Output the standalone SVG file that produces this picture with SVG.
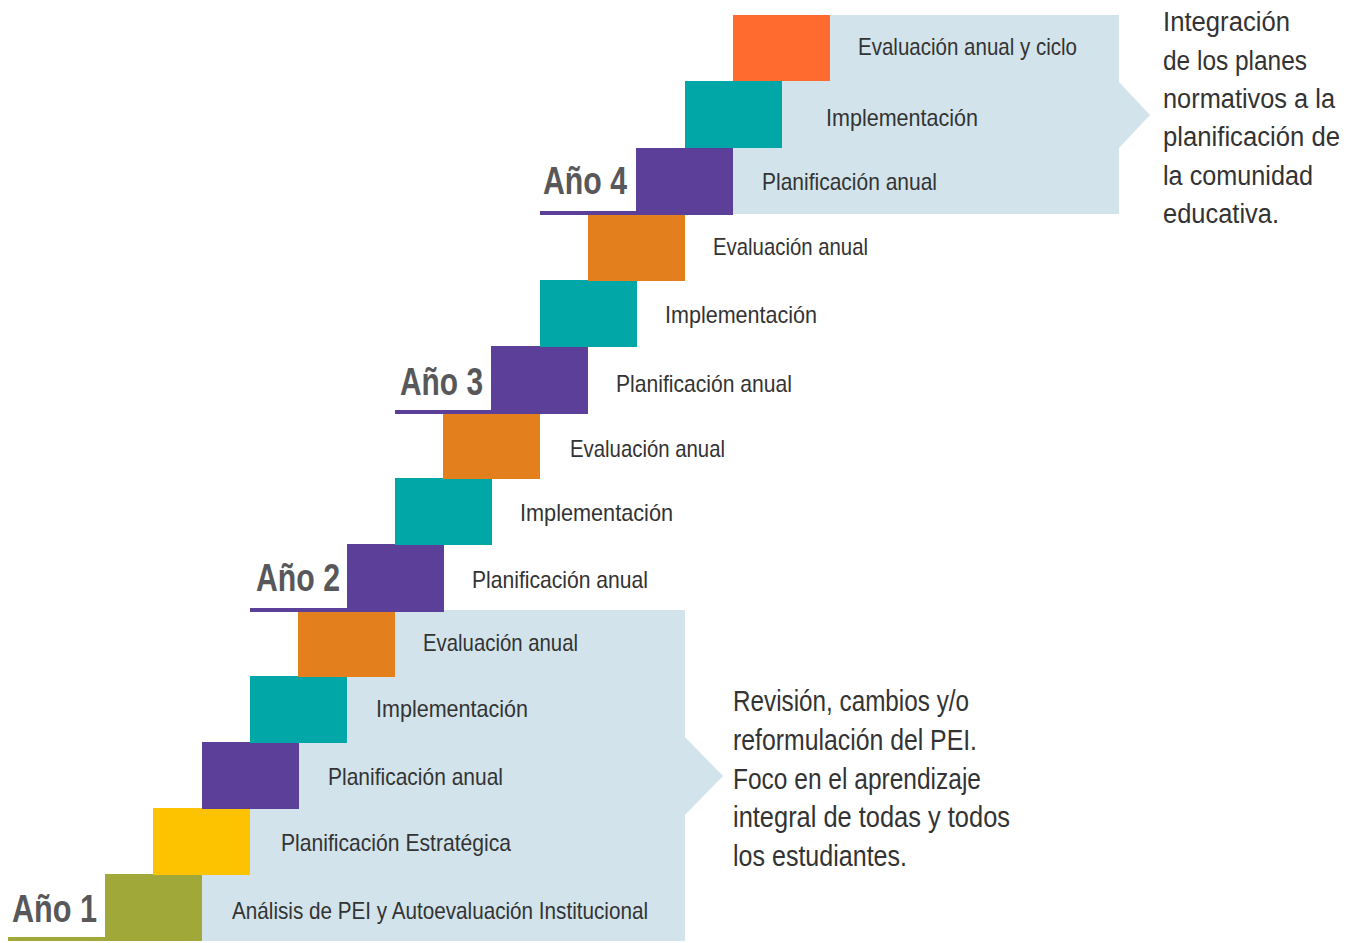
<svg xmlns="http://www.w3.org/2000/svg" width="1359" height="943" viewBox="0 0 1359 943">
  <style>
    .panel { fill: #D2E3EB; }
    .lbl { font-family: "Liberation Sans", Arial, sans-serif; font-size: 24px; fill: #333333; }
    .year { font-family: "Liberation Sans", Arial, sans-serif; font-size: 38px; font-weight: bold; fill: #58585A; }
    .note { font-family: "Liberation Sans", Arial, sans-serif; font-size: 29px; fill: #333333; }
    .note-sm { font-size: 27px; }
    .olive { fill: #A0A83A; }
    .yellow { fill: #FDC300; }
    .purple { fill: #5B3F99; }
    .teal { fill: #00A7A6; }
    .orange { fill: #E47F1E; }
    .red { fill: #FF6B2E; }
  </style>
  <rect width="1359" height="943" fill="#FFFFFF"/>

  <!-- background panels with pointer chevrons -->
  <g id="connectors">
    <polygon class="panel" points="105,941 105,874 153,874 153,808 202,808 202,742 250,742 250,676 298,676 298,610 685,610 685,737 723,776 685,815 685,941"/>
    <polygon class="panel" points="636,214 636,148 685,148 685,82 733,82 733,15 1119,15 1119,82 1150,115 1119,148 1119,214"/>
  </g>

  <!-- Year 1 -->
  <g id="step-analisis">
    <rect class="olive" x="8" y="937" width="97" height="4"/>
    <rect class="olive" x="105" y="874" width="97" height="67"/>
    <text class="year" x="12" y="922" textLength="85" lengthAdjust="spacingAndGlyphs">Año 1</text>
    <text class="lbl" x="232" y="919" textLength="416" lengthAdjust="spacingAndGlyphs">Análisis de PEI y Autoevaluación Institucional</text>
  </g>
  <g id="step-estrategica">
    <rect class="yellow" x="153" y="808" width="97" height="67"/>
    <text class="lbl" x="281" y="851" textLength="230" lengthAdjust="spacingAndGlyphs">Planificación Estratégica</text>
  </g>
  <g id="step-plan-1">
    <rect class="purple" x="202" y="742" width="97" height="67"/>
    <text class="lbl" x="328" y="785" textLength="175" lengthAdjust="spacingAndGlyphs">Planificación anual</text>
  </g>
  <g id="step-impl-1">
    <rect class="teal" x="250" y="676" width="97" height="67"/>
    <text class="lbl" x="376" y="717" textLength="152" lengthAdjust="spacingAndGlyphs">Implementación</text>
  </g>
  <g id="step-eval-1">
    <rect class="orange" x="298" y="610" width="97" height="67"/>
    <text class="lbl" x="423" y="651" textLength="155" lengthAdjust="spacingAndGlyphs">Evaluación anual</text>
  </g>

  <!-- Year 2 -->
  <g id="step-plan-2">
    <rect class="purple" x="250" y="608" width="97" height="4"/>
    <rect class="purple" x="347" y="544" width="97" height="68"/>
    <text class="year" x="256" y="591" textLength="84" lengthAdjust="spacingAndGlyphs">Año 2</text>
    <text class="lbl" x="472" y="588" textLength="176" lengthAdjust="spacingAndGlyphs">Planificación anual</text>
  </g>
  <g id="step-impl-2">
    <rect class="teal" x="395" y="478" width="97" height="67"/>
    <text class="lbl" x="520" y="521" textLength="153" lengthAdjust="spacingAndGlyphs">Implementación</text>
  </g>
  <g id="step-eval-2">
    <rect class="orange" x="443" y="412" width="97" height="67"/>
    <text class="lbl" x="570" y="457" textLength="155" lengthAdjust="spacingAndGlyphs">Evaluación anual</text>
  </g>

  <!-- Year 3 -->
  <g id="step-plan-3">
    <rect class="purple" x="395" y="410" width="97" height="4"/>
    <rect class="purple" x="491" y="346" width="97" height="68"/>
    <text class="year" x="400" y="395" textLength="83" lengthAdjust="spacingAndGlyphs">Año 3</text>
    <text class="lbl" x="616" y="392" textLength="176" lengthAdjust="spacingAndGlyphs">Planificación anual</text>
  </g>
  <g id="step-impl-3">
    <rect class="teal" x="540" y="280" width="97" height="67"/>
    <text class="lbl" x="665" y="323" textLength="152" lengthAdjust="spacingAndGlyphs">Implementación</text>
  </g>
  <g id="step-eval-3">
    <rect class="orange" x="588" y="214" width="97" height="67"/>
    <text class="lbl" x="713" y="255" textLength="155" lengthAdjust="spacingAndGlyphs">Evaluación anual</text>
  </g>

  <!-- Year 4 -->
  <g id="step-plan-4">
    <rect class="purple" x="540" y="211" width="97" height="4"/>
    <rect class="purple" x="636" y="148" width="97" height="67"/>
    <text class="year" x="543" y="194" textLength="84" lengthAdjust="spacingAndGlyphs">Año 4</text>
    <text class="lbl" x="762" y="190" textLength="175" lengthAdjust="spacingAndGlyphs">Planificación anual</text>
  </g>
  <g id="step-impl-4">
    <rect class="teal" x="685" y="81" width="97" height="67"/>
    <text class="lbl" x="826" y="126" textLength="152" lengthAdjust="spacingAndGlyphs">Implementación</text>
  </g>
  <g id="step-eval-4">
    <rect class="red" x="733" y="15" width="97" height="66"/>
    <text class="lbl" x="858" y="55" textLength="219" lengthAdjust="spacingAndGlyphs">Evaluación anual y ciclo</text>
  </g>

  <!-- side notes -->
  <g id="note-top">
    <text class="note note-sm" x="1163" y="31" textLength="127" lengthAdjust="spacingAndGlyphs">Integración</text>
    <text class="note note-sm" x="1163" y="70" textLength="144" lengthAdjust="spacingAndGlyphs">de los planes</text>
    <text class="note note-sm" x="1163" y="108" textLength="172" lengthAdjust="spacingAndGlyphs">normativos a la</text>
    <text class="note note-sm" x="1163" y="146" textLength="177" lengthAdjust="spacingAndGlyphs">planificación de</text>
    <text class="note note-sm" x="1163" y="185" textLength="150" lengthAdjust="spacingAndGlyphs">la comunidad</text>
    <text class="note note-sm" x="1163" y="223" textLength="116" lengthAdjust="spacingAndGlyphs">educativa.</text>
  </g>
  <g id="note-bottom">
    <text class="note" x="733" y="711" textLength="236" lengthAdjust="spacingAndGlyphs">Revisión, cambios y/o</text>
    <text class="note" x="733" y="750" textLength="244" lengthAdjust="spacingAndGlyphs">reformulación del PEI.</text>
    <text class="note" x="733" y="789" textLength="248" lengthAdjust="spacingAndGlyphs">Foco en el aprendizaje</text>
    <text class="note" x="733" y="827" textLength="277" lengthAdjust="spacingAndGlyphs">integral de todas y todos</text>
    <text class="note" x="733" y="866" textLength="174" lengthAdjust="spacingAndGlyphs">los estudiantes.</text>
  </g>
</svg>
